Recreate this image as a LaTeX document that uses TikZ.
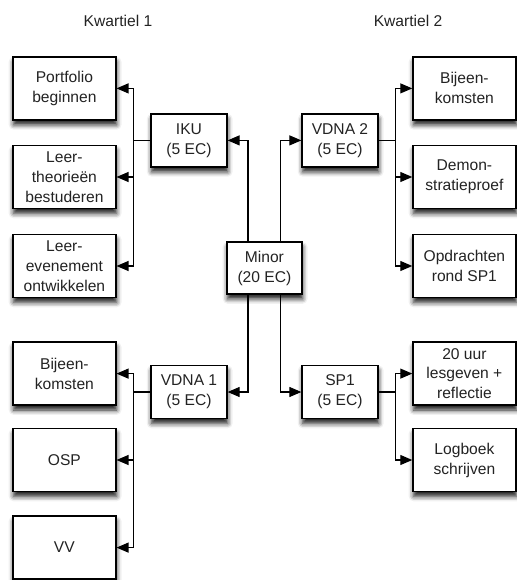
\documentclass[tikz,border=0pt]{standalone}
\usepackage{fontspec}
\setmainfont{Liberation Sans}
\usetikzlibrary{arrows.meta,positioning,calc,shadows.blur}
\definecolor{txtgray}{RGB}{35,35,35}

\begin{document}
\begin{tikzpicture}[font=\fontsize{11.1}{14.2}\selectfont,text=txtgray,>={Triangle[length=3mm,width=2.5mm]},
  blk/.style={draw,line width=0.9pt,fill=white,align=center,inner sep=1pt,minimum width=19mm,minimum height=13.25mm,
    blur shadow={shadow xshift=0.5pt,shadow yshift=-3.5pt,shadow blur radius=3.5pt,shadow opacity=90}},
  task/.style={blk,minimum width=25.75mm,minimum height=15.75mm},
  arr/.style={->,line width=0.8pt}]
\useasboundingbox (0,0) rectangle (12.9,-14.5);
% headers
\node (k1) at (2.95,-0.53) {Kwartiel 1};
\node (k2) at (10.2,-0.53) {Kwartiel 2};
% centre
\node[blk,minimum width=18.75mm,minimum height=13mm] (minor) at (6.61,-6.7) {Minor\\(20 EC)};
% courses
\node[blk] (iku)   at (4.725,-3.51) {IKU\\(5 EC)};
\node[blk] (vdna1) at (4.725,-9.8)  {VDNA 1\\(5 EC)};
\node[blk] (vdna2) at (8.5,-3.51)   {VDNA 2\\(5 EC)};
\node[blk] (sp1)   at (8.5,-9.8)    {SP1\\(5 EC)};
% left column
\node[task] (port) at (1.61,-2.21)  {Portfolio\\beginnen};
\node[task] (theo) at (1.61,-4.425) {Leer-\\theorieën\\bestuderen};
\node[task] (even) at (1.61,-6.65)  {Leer-\\evenement\\ontwikkelen};
\node[task] (bijl) at (1.61,-9.34)  {Bijeen-\\komsten};
\node[task] (osp)  at (1.61,-11.5)  {OSP};
\node[task] (vv)   at (1.61,-13.69) {VV};
% right column
\node[task] (bijr) at (11.61,-2.21)  {Bijeen-\\komsten};
\node[task] (demo) at (11.61,-4.425) {Demon-\\stratieproef};
\node[task] (opdr) at (11.61,-6.65)  {Opdrachten\\rond SP1};
\node[task] (uur)  at (11.61,-9.34)  {20 uur\\lesgeven +\\reflectie};
\node[task] (logb) at (11.61,-11.5)  {Logboek\\schrijven};
% minor to courses
\draw[arr] ([xshift=-4.1mm]minor.north) |- (iku.east);
\draw[arr] ([xshift=4.1mm]minor.north) |- (vdna2.west);
\draw[arr] ([xshift=-4.1mm]minor.south) |- (vdna1.east);
\draw[arr] ([xshift=4.1mm]minor.south) |- (sp1.west);
% courses to tasks
\foreach \t in {port,theo,even} \draw[arr] (iku.west) -- ++(-0.43,0) |- (\t.east);
\foreach \t in {bijl,osp,vv} \draw[arr] (vdna1.west) -- ++(-0.43,0) |- (\t.east);
\foreach \t in {bijr,demo,opdr} \draw[arr] (vdna2.east) -- ++(0.43,0) |- (\t.west);
\foreach \t in {uur,logb} \draw[arr] (sp1.east) -- ++(0.43,0) |- (\t.west);
\end{tikzpicture}
\end{document}
